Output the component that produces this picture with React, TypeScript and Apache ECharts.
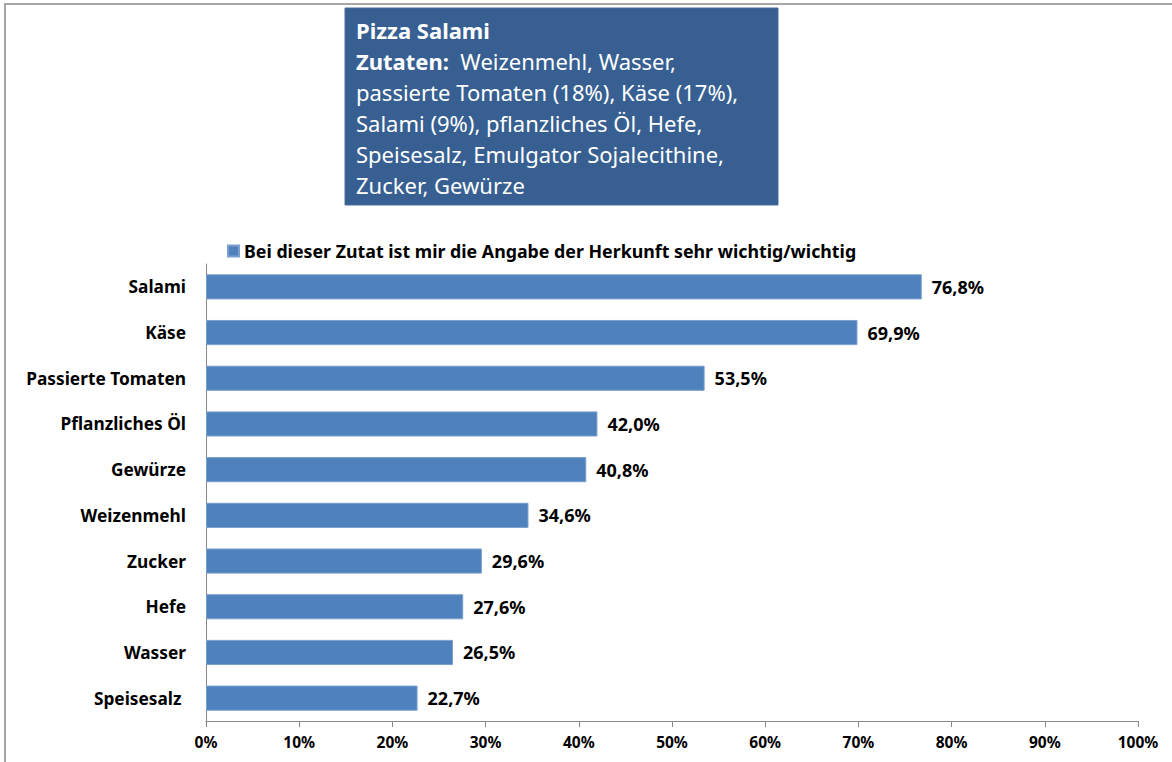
import React, { useEffect, useRef } from "react";
import * as echarts from "echarts";

const categories = [
  "Salami",
  "Käse",
  "Passierte Tomaten",
  "Pflanzliches Öl",
  "Gewürze",
  "Weizenmehl",
  "Zucker",
  "Hefe",
  "Wasser",
  "Speisesalz ",
];
const values = [76.8, 69.9, 53.5, 42.0, 40.8, 34.6, 29.6, 27.6, 26.5, 22.7];
const seriesName = "Bei dieser Zutat ist mir die Angabe der Herkunft sehr wichtig/wichtig";
const boxTitle = "Pizza Salami";
const boxLines = [
  "Weizenmehl, Wasser,",
  "passierte Tomaten (18%), Käse (17%),",
  "Salami (9%), pflanzliches Öl, Hefe,",
  "Speisesalz, Emulgator Sojalecithine,",
  "Zucker, Gewürze",
];

const FONT = "Noto Sans";

export default function App() {
  const ref = useRef<HTMLDivElement>(null);
  useEffect(() => {
    const chart = echarts.init(ref.current!, null, { renderer: "svg" });
    const boxText =
      "{b|" + boxTitle + "}\n{b|Zutaten:}{n|  " + boxLines[0] + "}\n" +
      boxLines.slice(1).map((l) => "{n|" + l + "}").join("\n");
    chart.setOption({
      animation: false,
      backgroundColor: "#ffffff",
      textStyle: { fontFamily: FONT },
      graphic: [
        {
          type: "rect",
          shape: { x: 5, y: 4, width: 1200, height: 800 },
          style: { fill: "none", stroke: "#a6a6a6", lineWidth: 2 },
          silent: true,
        },
        {
          type: "rect",
          shape: { x: 345, y: 8, width: 433, height: 197 },
          style: { fill: "#375f91", stroke: "#4a6f9c", lineWidth: 1 },
        },
        {
          type: "text",
          x: 356,
          y: 14,
          style: {
            text: boxText,
            fill: "#ffffff",
            rich: {
              b: { fontFamily: FONT, fontWeight: "bold", fontSize: 22, lineHeight: 31, fill: "#ffffff" },
              n: { fontFamily: FONT, fontSize: 22, lineHeight: 31, fill: "#ffffff" },
            },
          },
        },
      ],
      legend: {
        data: [seriesName],
        left: 222,
        top: 237,
        itemWidth: 11,
        itemHeight: 11,
        itemGap: 5,
        icon: "rect",
        textStyle: { fontFamily: FONT, fontWeight: "bold", fontSize: 17.8, color: "#000" },
      },
      grid: { left: 206, right: 34, top: 264, bottom: 41, containLabel: false },
      xAxis: {
        type: "value",
        min: 0,
        max: 100,
        interval: 10,
        axisLine: { show: true, lineStyle: { color: "#888", width: 1 } },
        axisTick: { show: true, length: 6, lineStyle: { color: "#888" } },
        splitLine: { show: false },
        axisLabel: {
          formatter: (v: number) => v + "%",
          fontFamily: FONT,
          fontWeight: "bold",
          fontSize: 15.5,
          color: "#000",
          margin: 13,
        },
      },
      yAxis: {
        type: "category",
        data: categories,
        inverse: true,
        axisLine: { show: true, lineStyle: { color: "#888", width: 1 } },
        axisTick: { show: false },
        axisLabel: {
          fontFamily: FONT,
          fontWeight: "bold",
          fontSize: 17.3,
          color: "#000",
          margin: 20,
        },
      },
      series: [
        {
          name: seriesName,
          type: "bar",
          data: values,
          barCategoryGap: "45%",
          itemStyle: { color: "#4f81bd", borderColor: "#7a9fcf", borderWidth: 1 },
          label: {
            show: true,
            position: "right",
            distance: 10,
            formatter: (p: any) => p.value.toFixed(1).replace(".", ",") + "%",
            fontFamily: FONT,
            fontWeight: "bold",
            fontSize: 18,
            color: "#000",
          },
        },
      ],
    });
    return () => chart.dispose();
  }, []);
  return (
    <div
      ref={ref}
      style={{ position: "fixed", left: 0, top: 0, width: 1172, height: 762 }}
    />
  );
}
